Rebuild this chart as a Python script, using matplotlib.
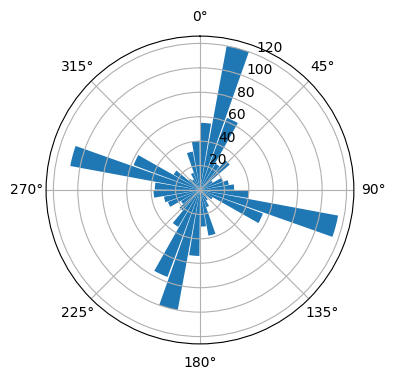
import numpy as np
import matplotlib
matplotlib.use("Agg")
import matplotlib.pyplot as plt

# direction bins (deg, clockwise from north) and counts
directions = np.arange(5, 360, 10)
counts = [55, 120, 63, 25, 32, 12, 20, 24, 28,
          40, 115, 55, 12, 8, 10, 15, 38, 30,
          54, 100, 76, 35, 22, 18, 28, 30, 38,
          37, 108, 58, 25, 12, 10, 15, 32, 40]

fig = plt.figure(figsize=(3.96, 3.8), dpi=100)
ax = fig.add_axes([0.116, 0.095, 0.778, 0.81], projection='polar')
ax.set_theta_zero_location('N')
ax.set_theta_direction(-1)

theta = np.deg2rad(directions)
ax.bar(theta, counts, width=np.deg2rad(9), bottom=0.0, color='#1f77b4')
ax.set_rticks([20, 40, 60, 80, 100, 120])

fig.savefig("out.png", dpi=100)
